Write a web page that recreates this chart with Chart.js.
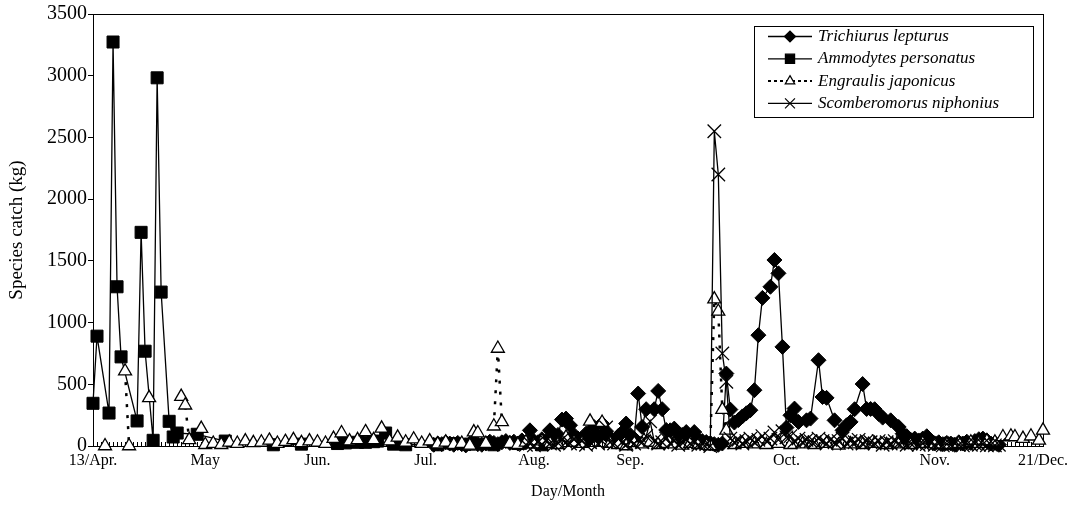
<!DOCTYPE html>
<html>
<head>
<meta charset="utf-8">
<title>Species catch</title>
<script src="https://cdn.jsdelivr.net/npm/chart.js@4.4.1/dist/chart.umd.min.js"></script>
<style>
  html, body { margin: 0; padding: 0; background: #fff; }
  canvas { display: block; }
</style>
</head>
<body>
<canvas id="catchChart" width="1071" height="514"></canvas>
<script>
const _ = null;

// sampling days along the x axis, only some of them carry a label
const sampleCount = 238;
const monthLabels = ['13/Apr.', 'May', 'Jun.', 'Jul.', 'Aug.', 'Sep.', 'Oct.', 'Nov.', '21/Dec.'];
const monthIndex = [0, 28, 56, 83, 110, 134, 173, 210, 237];

const yTicks = [0, 500, 1000, 1500, 2000, 2500, 3000, 3500];

const seriesNames = ['Trichiurus lepturus', 'Ammodytes personatus', 'Engraulis japonicus', 'Scomberomorus niphonius'];

const trichiurus = [
  _, _, _, _, _, _, _, _, _, _,
  _, _, _, _, _, _, _, _, _, _,
  _, _, _, _, _, _, _, _, _, _,
  _, _, _, _, _, _, _, _, _, _,
  _, _, _, _, _, _, _, _, _, _,
  _, _, _, _, _, _, _, _, _, _,
  _, _, _, _, _, _, _, _, _, _,
  _, _, _, _, _, _, _, _, _, _,
  _, _, _, _, _, 10, 20, 15, 30, 20,          // 80
  10, 25, 15, 5, 20, 30, 15, 10, 20, 35,      // 90
  25, 15, 30, 40, 25, 35, 20, 45, 30, 127,    // 100
  40, 30, 55, 40, 127, 70, 90, 214, 222, 168, // 110
  90, 60, 40, 100, 60, 154, 80, 182, 120, 60, // 120
  40, 80, 110, 182, 90, 60, 425, 154, 298, _, // 130
  298, 446, 298, 130, 127, 141, 60, 90, 113, 70, // 140
  113, 50, 40, 32, 20, 15, 10, 20, 587, 295,  // 150
  190, 210, 240, 265, 290, 452, 898, 1200, _, 1290, // 160
  1507, 1399, 803, 149, 249, 303, 195, _, 208, 222, // 170
  _, 695, 397, 390, _, 208, _, 127, 168, 195, // 180
  298, _, 502, 300, 300, 298, 260, 230, _, 208, // 190
  _, 154, 100, 80, 50, 60, 45, 60, 79, 40,    // 200
  20, 30, 15, 25, 20, 10, 30, 20, 35, 25,     // 210
  40, 55, 60, 45, 20, 25, 10                  // 220
];

const ammodytes = [
  346, 890, _, _, 267, 3273, 1290, 722, _, _,
  _, 203, 1731, 768, _, 46, 2983, 1247, _, 200,
  73, 105, _, _, _, _, 95, _, _, _,
  _, _, _, 40, _, _, _, _, _, _,
  _, _, _, _, _, 10, _, _, _, _,
  _, _, 15, _, _, _, _, _, _, _,
  _, 20, _, 25, _, _, 30, _, 30, _,
  35, 40, _, 105, _, 15, _, _, 10, _,
  _, _, _, _, _, _, 10, _, _, _,
  20, _, _, _, 15, _, _, _, _, _,
  10, _, _, _, _, _, 20, _, _, _,
  _, _, 10
];

const engraulis = [
  _, _, _, 0, _, _, _, _, 606, 0,
  _, _, _, _, 390, _, _, _, _, _,
  _, _, 400, 330, 50, _, _, 141, 10, _,
  20, _, 10, _, 30, _, 20, _, 40, _,
  25, _, 30, _, 45, _, 20, _, 35, _,
  50, _, 25, _, 40, _, 30, _, 20, _,
  60, _, 105, _, 40, _, 50, _, 114, _,
  50, _, 143, _, 40, _, 70, _, 30, _,
  55, _, 20, _, 40, _, 15, _, 30, _,
  10, _, 20, _, 5, 113, 105, _, 20, _,
  160, 790, 195, _, 20, _, 10, _, 30, _,
  15, _, 40, _, 20, _, 10, _, 70, _,
  30, _, 20, _, 200, _, _, 190, _, 20,
  _, 10, _, 0, _, 25, _, 15, _, 30,
  _, 10, _, 20, _, 15, _, 5, _, 20,
  _, 10, _, 5, 0, 1190, 1090, 295, 127, _,
  10, _, 20, _, _, 15, _, _, 10, _,
  _, 20, _, _, 10, _, _, 15, _, _,
  10, _, _, 20, _, _, 5, _, _, 15,
  _, _, 10, _, _, 20, _, _, 10, _,
  _, 15, _, _, 10, _, _, 20, _, _,
  15, _, _, 10, _, _, 20, _, _, 30,
  _, 20, _, 40, _, 30, _, 73, _, 79,
  73, _, 60, _, 79, _, 46, 127
];

const scomberomorus = [
  _, _, _, _, _, _, _, _, _, _,
  _, _, _, _, _, _, _, _, _, _,
  _, _, _, _, _, _, _, _, _, _,
  _, _, _, _, _, _, _, _, _, _,
  _, _, _, _, _, _, _, _, _, _,
  _, _, _, _, _, _, _, _, _, _,
  _, _, _, _, _, _, _, _, _, _,
  _, _, _, _, _, _, _, _, _, _,
  _, _, _, _, _, _, _, _, _, _,
  _, _, _, _, _, _, _, _, _, _,
  _, _, _, _, _, _, _, _, 10, 20,             // 100
  5, 30, 15, 40, 20, 10, 25, 50, 30, 20,
  60, 20, 40, 10, 30, 50, 20, 40, 150, 30,
  20, 60, 30, 10, 40, 20, 50, 30, 80, 200,
  40, 20, 30, 60, 20, 40, 10, 30, 50, 20,
  30, 10, 20, 15, 0, 2550, 2200, 750, 520, 60, // 150
  30, 50, 20, 40, 60, 30, 50, 80, 40, 60,
  110, 50, 120, 70, 80, 40, 60, 30, 50, 40,
  30, 60, 40, 20, 50, 30, 40, 60, 20, 40,
  30, 50, 20, 40, 30, 20, 40, 10, 30, 20,
  40, 20, 30, 10, 20, 30, 10, 20, 15, 25,
  10, 20, 5, 15, 10, 20, 10, 5, 15, 10,
  20, 10, 15, 5, 10, 5, 10
];

const categories = [];
for (let i = 0; i < sampleCount; i++) {
    const k = monthIndex.indexOf(i);
    categories.push(k >= 0 ? monthLabels[k] : '');
}

const serif = "'Liberation Serif', 'Times New Roman', serif";

// plot frame plus the small inside tick marks of the category axis
const framePlugin = {
    id: 'frame',
    beforeDatasetsDraw(chart) {
        const { ctx, chartArea: a, scales: { x } } = chart;
        ctx.save();
        ctx.strokeStyle = '#000';
        ctx.lineWidth = 1;
        ctx.strokeRect(a.left + 0.5, a.top + 0.5, a.right - a.left, a.bottom - a.top);
        ctx.beginPath();
        categories.forEach((c, i) => {
            const px = Math.round(x.getPixelForValue(i)) + 0.5;
            ctx.moveTo(px, a.bottom);
            ctx.lineTo(px, a.bottom - 4);
        });
        ctx.stroke();
        ctx.restore();
    }
};

const legendMarkers = [
    { pointStyle: 'rectRot', radius: 5.5, fill: '#000' },
    { pointStyle: 'rect', radius: 6.5, fill: '#000' },
    { pointStyle: 'triangle', radius: 5.5, fill: '#fff' },
    { pointStyle: 'crossRot', radius: 7, fill: '#000' }
];

const legendPlugin = {
    id: 'boxLegend',
    afterDraw(chart) {
        const ctx = chart.ctx;
        ctx.save();
        ctx.fillStyle = '#fff';
        ctx.fillRect(754, 26, 279, 91);
        ctx.strokeStyle = '#000';
        ctx.lineWidth = 1;
        ctx.strokeRect(754.5, 26.5, 279, 91);

        chart.data.datasets.forEach((ds, k) => {
            const y = 36.5 + k * 22.3;
            ctx.strokeStyle = '#000';
            ctx.lineWidth = ds.borderDash ? 2 : 1.3;
            ctx.setLineDash(ds.borderDash ? [3, 3] : []);
            ctx.beginPath();
            ctx.moveTo(768, y);
            ctx.lineTo(812, y);
            ctx.stroke();
            ctx.setLineDash([]);

            const m = legendMarkers[k];
            ctx.fillStyle = m.fill;
            ctx.lineWidth = 1.2;
            Chart.helpers.drawPoint(ctx, { pointStyle: m.pointStyle, radius: m.radius, rotation: 0, borderWidth: 1.2 }, 790, y);

            ctx.fillStyle = '#000';
            ctx.font = "italic 17px " + serif;
            ctx.textBaseline = 'middle';
            ctx.textAlign = 'left';
            ctx.fillText(ds.label, 818, y);
        });
        ctx.restore();
    }
};

new Chart(document.getElementById('catchChart'), {
    type: 'line',
    data: {
        labels: categories,
        datasets: [
            {
                label: seriesNames[0],
                data: trichiurus,
                order: 4,
                spanGaps: true,
                clip: false,
                borderColor: '#000',
                borderWidth: 1.3,
                pointStyle: 'rectRot',
                pointRadius: 7.5,
                pointBackgroundColor: '#000',
                pointBorderColor: '#000',
                pointBorderWidth: 1
            },
            {
                label: seriesNames[1],
                data: ammodytes,
                order: 3,
                spanGaps: true,
                clip: false,
                borderColor: '#000',
                borderWidth: 1.3,
                pointStyle: 'rect',
                pointRadius: 8.5,
                pointBackgroundColor: '#000',
                pointBorderColor: '#000',
                pointBorderWidth: 1
            },
            {
                label: seriesNames[2],
                data: engraulis,
                order: 2,
                spanGaps: false,
                clip: false,
                borderColor: '#000',
                borderWidth: 2.5,
                borderDash: [3, 8],
                pointStyle: 'triangle',
                pointRadius: 7.5,
                pointBackgroundColor: '#fff',
                pointBorderColor: '#000',
                pointBorderWidth: 1.3
            },
            {
                label: seriesNames[3],
                data: scomberomorus,
                order: 1,
                spanGaps: true,
                clip: false,
                borderColor: '#000',
                borderWidth: 1.3,
                pointStyle: 'crossRot',
                pointRadius: 9.5,
                pointBackgroundColor: '#000',
                pointBorderColor: '#000',
                pointBorderWidth: 1.3
            }
        ]
    },
    options: {
        responsive: false,
        animation: false,
        devicePixelRatio: 1,
        layout: { padding: { top: 14, right: 28, left: 0, bottom: 0 } },
        elements: { line: { tension: 0 } },
        plugins: {
            legend: { display: false },
            tooltip: { enabled: false }
        },
        scales: {
            x: {
                type: 'category',
                offset: false,
                grid: { display: false, drawTicks: false },
                border: { display: true, color: '#000', width: 1 },
                ticks: {
                    autoSkip: false,
                    maxRotation: 0,
                    minRotation: 0,
                    padding: 5,
                    color: '#000',
                    font: { family: serif, size: 16 }
                },
                title: {
                    display: true,
                    text: 'Day/Month',
                    color: '#000',
                    font: { family: serif, size: 16 },
                    padding: { top: 0, bottom: 13 }
                },
                afterFit(scale) {
                    scale.height = 68;
                    scale.paddingLeft = 0;
                    scale.paddingRight = 0;
                }
            },
            y: {
                min: yTicks[0],
                max: yTicks[yTicks.length - 1],
                afterBuildTicks(scale) {
                    scale.ticks = yTicks.map(v => ({ value: v }));
                },
                ticks: {
                    padding: 1,
                    color: '#000',
                    font: { family: serif, size: 20 },
                    callback: v => String(v)
                },
                grid: {
                    drawOnChartArea: false,
                    drawTicks: true,
                    tickLength: 5,
                    color: '#000',
                    tickColor: '#000'
                },
                border: { display: true, color: '#000' },
                title: {
                    display: true,
                    text: 'Species catch (kg)',
                    color: '#000',
                    font: { family: serif, size: 19 },
                    padding: { top: 6, bottom: 0 }
                },
                afterFit(scale) {
                    scale.width = 93;
                    scale.paddingTop = 0;
                    scale.paddingBottom = 0;
                }
            }
        }
    },
    plugins: [framePlugin, legendPlugin]
});
</script>
</body>
</html>
